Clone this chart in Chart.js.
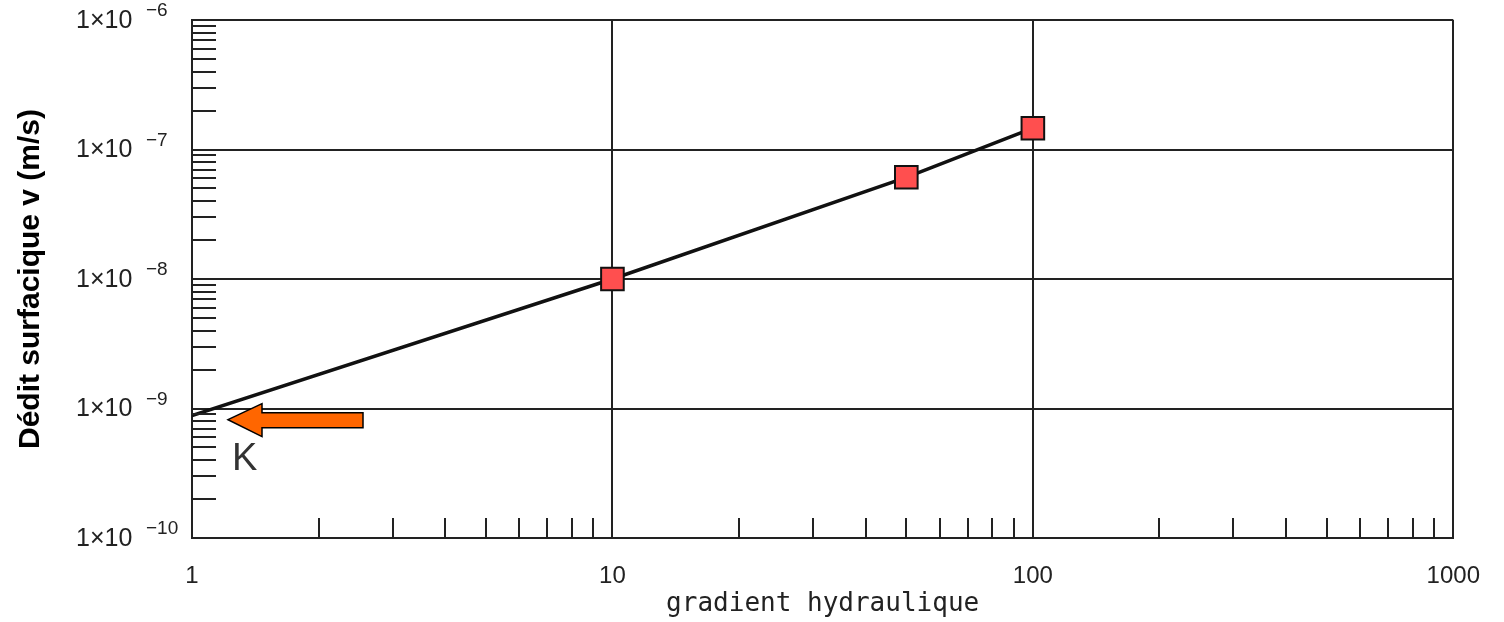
<!DOCTYPE html>
<html>
<head>
<meta charset="utf-8">
<script src="https://cdn.jsdelivr.net/npm/chart.js@4.4.1/dist/chart.umd.min.js"></script>
<style>
  body { margin: 0; background: #fff; }
  canvas { display: block; }
</style>
</head>
<body>
<canvas id="chart" width="1504" height="622"></canvas>
<script>
// Data
const lineX = [1, 10, 50, 100];
const lineY = [8.8e-10, 1.0e-8, 6.1e-8, 1.46e-7];
const pointX = [10, 50, 100];
const pointY = [1.0e-8, 6.1e-8, 1.46e-7];
const kValue = 8.2e-10;

// Axis ticks
const xDecades = [1, 10, 100, 1000];
const xTickLabels = ["1", "10", "100", "1000"];
const yExponents = [-10, -9, -8, -7, -6];
const minorMantissas = [2, 3, 4, 5, 6, 7, 8, 9];

const gridColor = "#222";

function isDecade(v) {
  const l = Math.log10(v);
  return Math.abs(l - Math.round(l)) < 1e-6;
}

// all tick values (decades + minor ones in between)
function buildTicks(decades) {
  let vals = [];
  for (let i = 0; i < decades.length; i++) {
    vals.push(decades[i]);
    if (i < decades.length - 1) {
      for (let m of minorMantissas) vals.push(m * decades[i]);
    }
  }
  return vals.sort((a, b) => a - b).map(v => ({ value: v }));
}

const yDecades = yExponents.map(e => Math.pow(10, e));

// minor ticks drawn inside the plot, y labels with superscript, arrow + K
const decorPlugin = {
  id: "decor",
  afterDraw(chart) {
    const ctx = chart.ctx;
    const xs = chart.scales.x;
    const ys = chart.scales.y;
    const area = chart.chartArea;
    ctx.save();
    ctx.strokeStyle = gridColor;
    ctx.lineWidth = 2;
    for (let t of ys.ticks) {
      if (isDecade(t.value)) continue;
      const y = Math.round(ys.getPixelForValue(t.value));
      ctx.beginPath();
      ctx.moveTo(area.left, y);
      ctx.lineTo(area.left + 24, y);
      ctx.stroke();
    }
    for (let t of xs.ticks) {
      if (isDecade(t.value)) continue;
      const x = Math.round(xs.getPixelForValue(t.value));
      ctx.beginPath();
      ctx.moveTo(x, area.bottom);
      ctx.lineTo(x, area.bottom - 20);
      ctx.stroke();
    }

    // y tick labels 1x10^n
    ctx.fillStyle = "#222";
    ctx.textBaseline = "middle";
    ctx.textAlign = "left";
    for (let e of yExponents) {
      const y = ys.getPixelForValue(Math.pow(10, e));
      ctx.font = "25px 'Liberation Sans'";
      ctx.fillText("1×10", 76, y + 1);
      ctx.font = "19px 'Liberation Sans'";
      ctx.fillText("−" + Math.abs(e), 146, y - 9);
    }

    // orange arrow pointing at K
    const tipX = xs.getPixelForValue(1) + 36;
    const tipY = ys.getPixelForValue(kValue);
    ctx.beginPath();
    ctx.moveTo(tipX, tipY);
    ctx.lineTo(tipX + 34, tipY - 16);
    ctx.lineTo(tipX + 34, tipY - 7);
    ctx.lineTo(tipX + 135, tipY - 7);
    ctx.lineTo(tipX + 135, tipY + 8);
    ctx.lineTo(tipX + 34, tipY + 8);
    ctx.lineTo(tipX + 34, tipY + 17);
    ctx.closePath();
    ctx.fillStyle = "#ff6600";
    ctx.fill();
    ctx.strokeStyle = "#000";
    ctx.lineWidth = 1.5;
    ctx.stroke();

    ctx.fillStyle = "#333";
    ctx.font = "38px 'Liberation Sans'";
    ctx.textBaseline = "alphabetic";
    ctx.fillText("K", tipX + 4, tipY + 50);
    ctx.restore();
  }
};

new Chart(document.getElementById("chart"), {
  type: "scatter",
  data: {
    datasets: [
      {
        data: pointX.map((x, i) => ({ x: x, y: pointY[i] })),
        pointStyle: "rect",
        pointRadius: 16,
        pointHoverRadius: 16,
        pointBackgroundColor: "#ff4f4f",
        pointBorderColor: "#111",
        pointBorderWidth: 2,
        showLine: false,
      },
      {
        data: lineX.map((x, i) => ({ x: x, y: lineY[i] })),
        showLine: true,
        borderColor: "#111",
        borderWidth: 3.5,
        pointRadius: 0,
        fill: false,
      },
    ],
  },
  options: {
    responsive: false,
    animation: false,
    layout: { padding: { left: 0, top: 20, right: 48, bottom: 0 } },
    plugins: {
      legend: { display: false },
      tooltip: { enabled: false },
    },
    scales: {
      x: {
        type: "logarithmic",
        min: 1,
        max: 1000,
        afterBuildTicks: (scale) => { scale.ticks = buildTicks(xDecades); },
        afterFit: (scale) => { scale.height = 84; },
        grid: {
          color: (c) => (c.tick && isDecade(c.tick.value) ? gridColor : "rgba(0,0,0,0)"),
          lineWidth: 2,
          drawTicks: false,
        },
        border: { display: true, color: gridColor, width: 2 },
        ticks: {
          autoSkip: false,
          maxRotation: 0,
          padding: 24,
          color: "#222",
          font: { family: "'Liberation Sans'", size: 24 },
          callback: (v) => {
            const i = xDecades.findIndex(d => Math.abs(d - v) < 1e-9);
            return i >= 0 ? xTickLabels[i] : "";
          },
        },
        title: {
          display: true,
          text: "gradient hydraulique",
          color: "#222",
          font: { family: "'DejaVu Sans Mono'", size: 26 },
          padding: { top: 0, bottom: 2 },
        },
      },
      y: {
        type: "logarithmic",
        min: 1e-10,
        max: 1e-6,
        afterBuildTicks: (scale) => { scale.ticks = buildTicks(yDecades); },
        afterFit: (scale) => { scale.width = 192; },
        grid: {
          color: (c) => (c.tick && isDecade(c.tick.value) ? gridColor : "rgba(0,0,0,0)"),
          lineWidth: 2,
          drawTicks: false,
        },
        border: { display: true, color: gridColor, width: 2 },
        ticks: { display: false },
        title: {
          display: true,
          text: "Dédit surfacique v (m/s)",
          color: "#000",
          font: { family: "'Liberation Sans'", size: 30, weight: "bold" },
          padding: { top: 13, bottom: 0 },
        },
      },
    },
  },
  plugins: [decorPlugin],
});
</script>
</body>
</html>
